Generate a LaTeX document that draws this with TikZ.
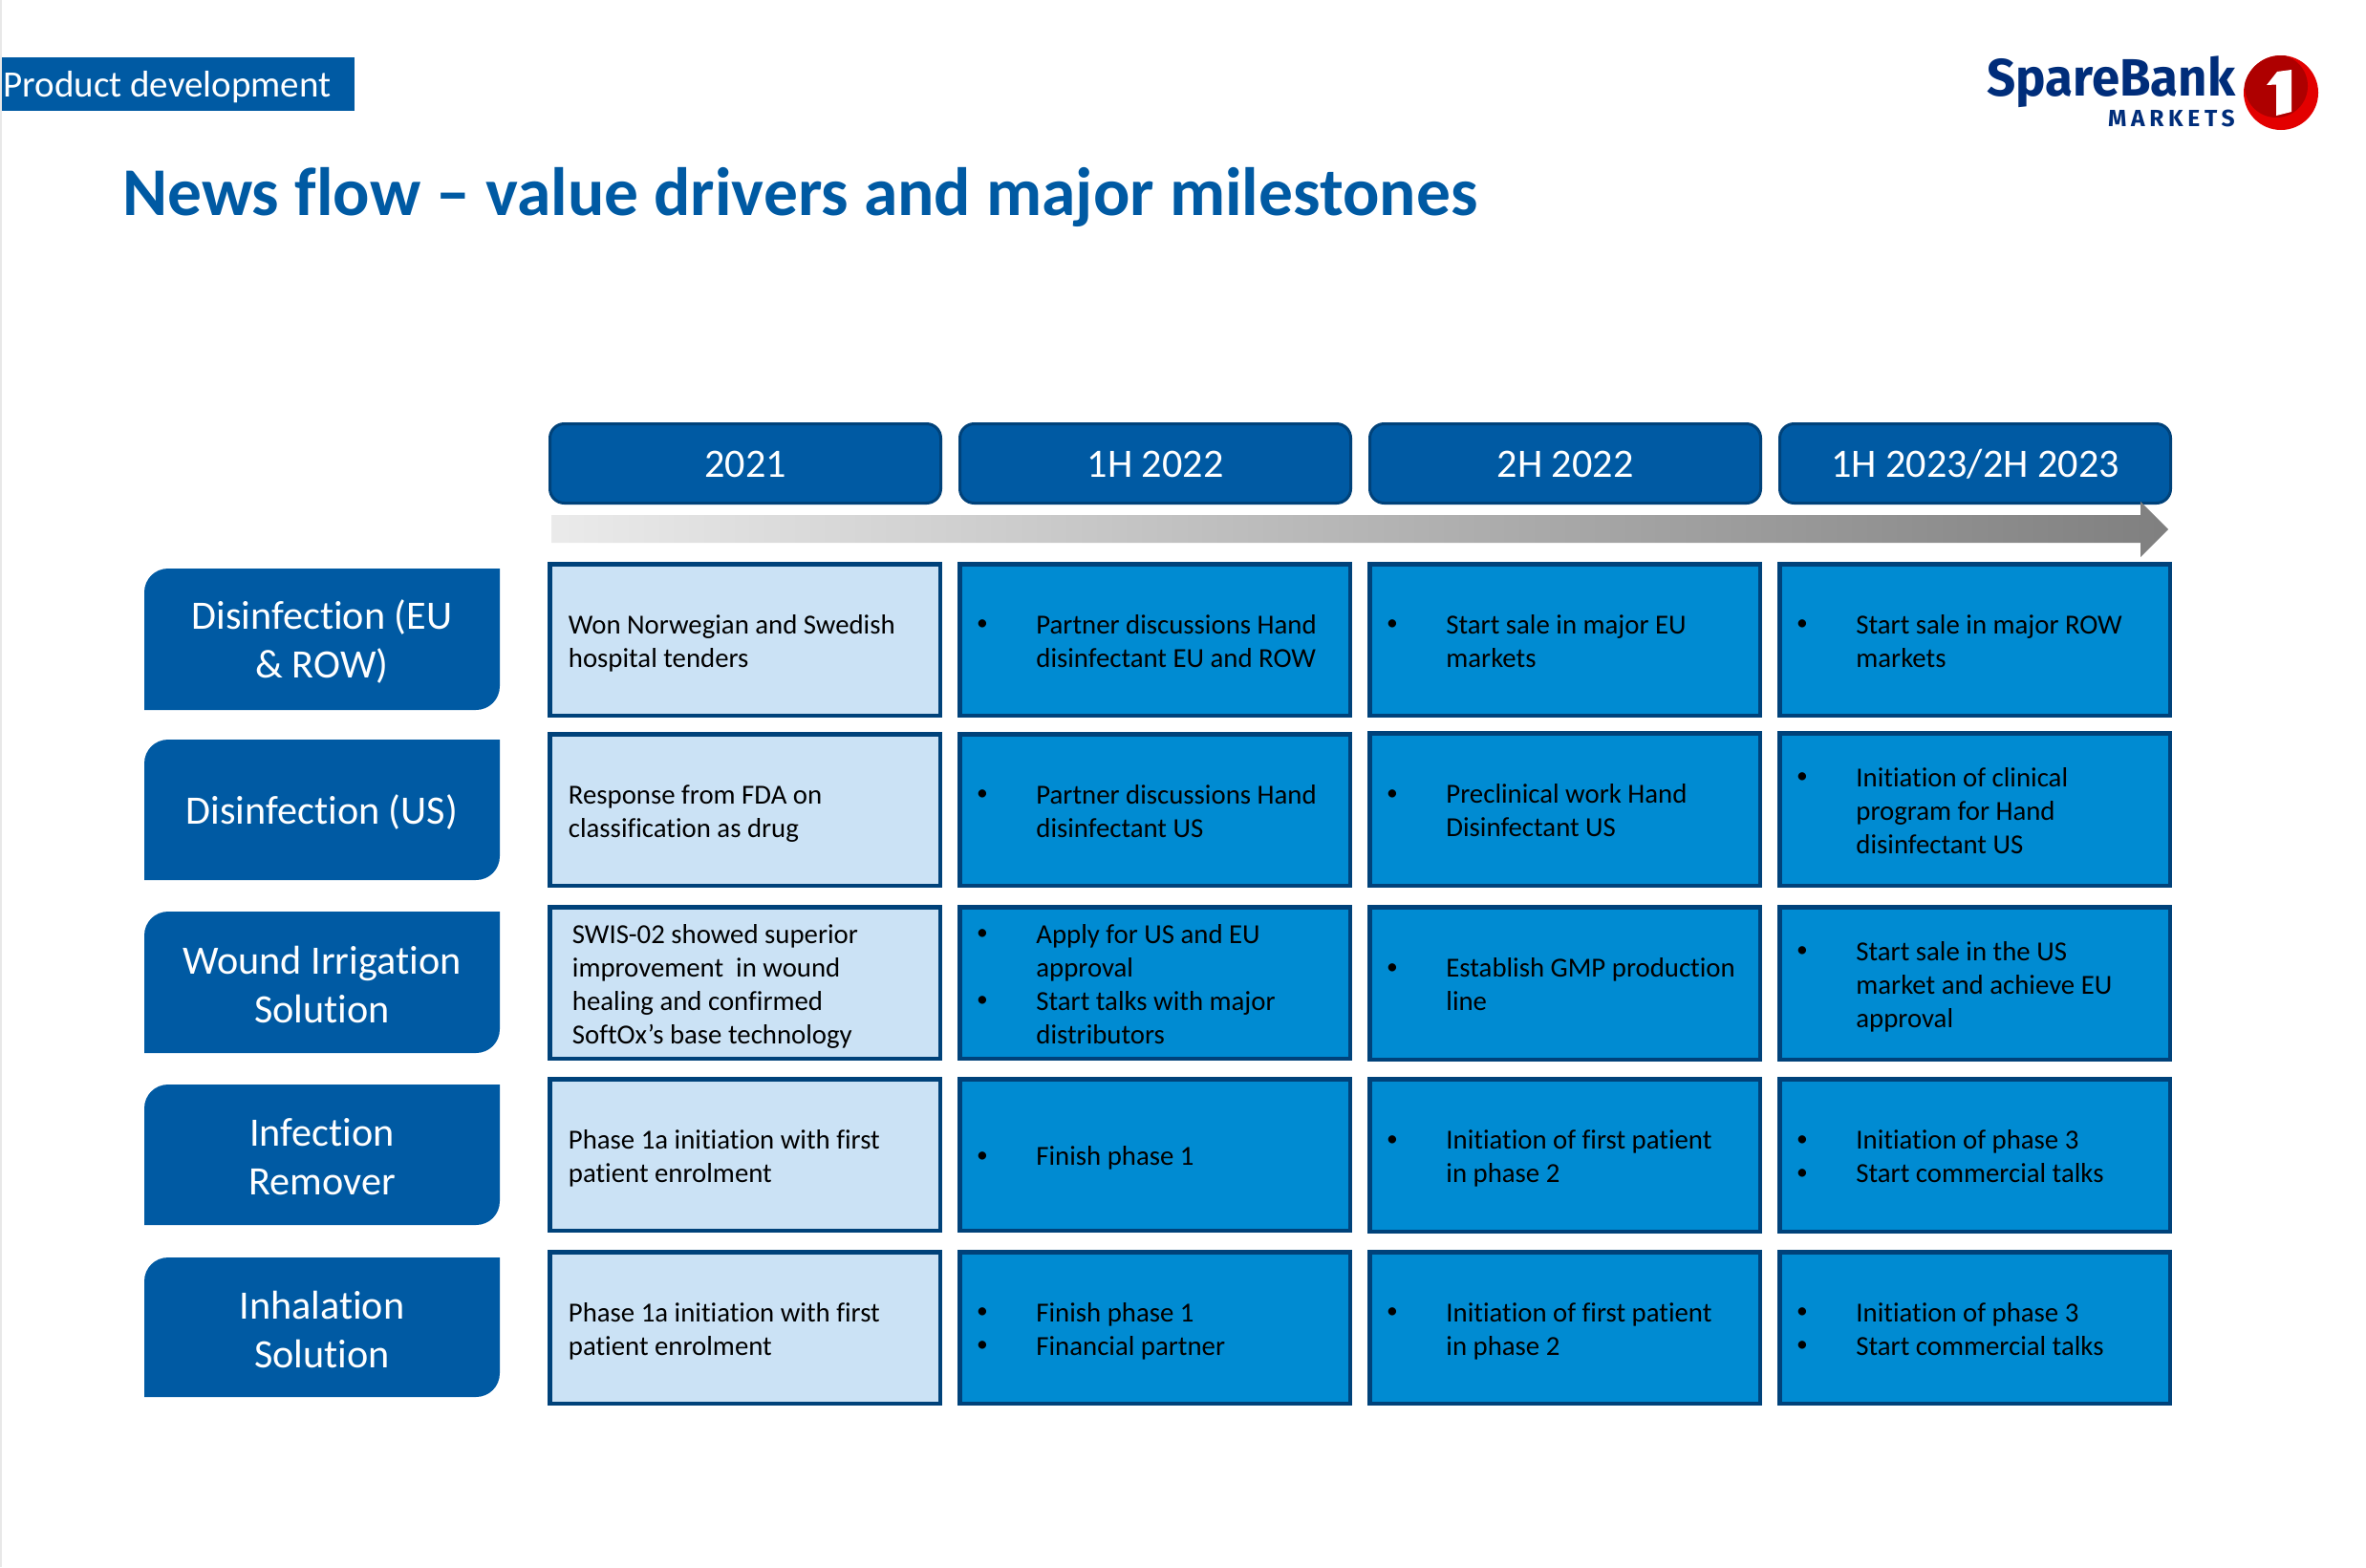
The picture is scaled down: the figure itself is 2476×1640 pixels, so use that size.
\documentclass[tikz,border=0pt]{standalone}
\usepackage{fontspec}
\setmainfont{Carlito}[Ligatures=NoCommon]
\newfontfamily\logofont{Fira Sans}
\newfontfamily\logomk[LetterSpace=19]{Fira Sans}
\usetikzlibrary{calc}
\definecolor{brand}{HTML}{005AA3}
\definecolor{edge}{HTML}{00427A}
\definecolor{midblue}{HTML}{008BD2}
\definecolor{pale}{HTML}{CBE2F5}
\definecolor{navy}{HTML}{002D7A}
\definecolor{redA}{HTML}{E30000}
\definecolor{redB}{HTML}{AE0000}
\tikzset{
  cellbox/.style={rectangle,draw=edge,line width=2.25pt,inner sep=0pt},
  early/.style={fill=pale},
  later/.style={fill=midblue},
  celltext/.style={anchor=west,align=left,inner sep=0pt,text=black,font=\fontsize{14.4}{17.5}\selectfont},
  headbox/.style={rectangle,rounded corners=7.5pt,fill=brand,draw=edge,line width=1.5pt,inner sep=0pt,
    minimum width=204.5pt,minimum height=41.5pt,text height=18pt,text depth=4pt,text=white,font=\fontsize{21.1}{25}\selectfont},
  labeltext/.style={align=center,inner sep=0pt,text=white,font=\fontsize{21.1}{25.5}\selectfont},
}
\newcommand\bl[1]{\makebox[29.5pt][l]{\hspace{-1.6pt}\raisebox{1.6pt}{\scalebox{.82}{\textbullet}}}#1\strut}
\newcommand\ct[1]{\hspace*{29.5pt}#1\strut}
\newcommand\pl[1]{#1\strut}
% name, col left, top, bottom, style, text
\newcommand\cellnode[6]{
  \node[cellbox,#5,minimum width=204.25pt,minimum height={(#4-#3-4.5)*0.5pt}] (#1) at ({#2+206.5},{(#3+#4)/2}) {};
  \node[celltext] (#1t) at ({#2+23},{(#3+#4)/2+4}) {#6};
}
\newcommand\plaincell[6]{
  \node[cellbox,#5,minimum width=204.25pt,minimum height={(#4-#3-4.5)*0.5pt}] (#1) at ({#2+206.5},{(#3+#4)/2}) {};
  \node[celltext] (#1t) at ({#2+21.5},{(#3+#4)/2+4}) {#6};
}
\newcommand\pcell[6]{
  \node[cellbox,#5,minimum width=204.25pt,minimum height={(#4-#3-4.5)*0.5pt}] (#1) at ({#2+206.5},{(#3+#4)/2}) {};
  \node[celltext] (#1t) at ({#2+25.5},{(#3+#4)/2+4}) {#6};
}
% name, top, bottom, text
\newcommand\labelbox[4]{
  \fill[brand] (151,#3) -- (151,{#2+25}) .. controls (151,{#2+11}) and (162,#2) .. (176,#2)
    -- (523,#2) -- (523,{#3-25}) .. controls (523,{#3-11}) and (512,#3) .. (498,#3) -- cycle;
  \node[labeltext] (#1) at (337,{(#2+#3)/2+2.5}) {#4};
}
\begin{document}
\begin{tikzpicture}[x=0.5pt,y=-0.5pt]
\useasboundingbox (0,0) rectangle (2476,1640);
\fill[white] (0,0) rectangle (2476,1640);
\fill[black!9] (0,0) rectangle (2,1640);
% tag and title
\fill[brand] (2,60) rectangle (371,116);
\node[anchor=base west,inner sep=0pt,text=white,font=\fontsize{19.5}{24}\selectfont] (tag) at (3,101) {Product development};
\node[anchor=base west,inner sep=0pt,text=brand,font=\bfseries\fontsize{35.75}{44}\selectfont] (title) at (128,225) {News flow – value drivers and major milestones};
% logo
\node[anchor=base west,inner sep=0pt,xscale=.96,text=navy,font=\logofont\bfseries\fontsize{27.5}{33}\selectfont] (spare) at (2079,100) {SpareBank};
\node[anchor=base east,inner sep=0pt,text=navy,font=\logomk\bfseries\fontsize{12.3}{15}\selectfont] (markets) at (2339,132) {MARKETS};
\fill[redA] (2387,97) circle[radius=19.5pt];
\begin{scope}
  \clip (2387,97) circle[radius=19.5pt];
  \fill[redB] (2382,90) circle[radius=16.5pt];
\end{scope}
\fill[white] (2398,73) -- (2383,75) -- (2372,89) -- (2382,88.5) -- (2382,121) -- (2398,117) -- cycle;
% headers
\node[headbox] (h1) at (780,485) {2021};
\node[headbox] (h2) at (1209,485) {1H 2022};
\node[headbox] (h3) at (1638,485) {2H 2022};
\node[headbox] (h4) at (2067,485) {1H 2023/2H 2023};
% time arrow
\shade[left color=black!8,right color=black!50]
  (577,539) -- (2240,539) -- (2240,525) -- (2269,554) -- (2240,583) -- (2240,568) -- (577,568) -- cycle;
% row labels
\labelbox{l1}{595}{743}{Disinfection (EU\\ \& ROW)}
\labelbox{l2}{774}{921}{Disinfection (US)}
\labelbox{l3}{954}{1102}{Wound Irrigation\\Solution}
\labelbox{l4}{1135}{1282}{Infection\\Remover}
\labelbox{l5}{1316}{1462}{Inhalation\\Solution}
% row 1
\plaincell{a1}{573}{588}{751}{early}{\pl{Won Norwegian and Swedish}\\\pl{hospital tenders}}
\cellnode{b1}{1002}{588}{751}{later}{\bl{Partner discussions Hand}\\\ct{disinfectant EU and ROW}}
\cellnode{c1}{1431}{588}{751}{later}{\bl{Start sale in major EU}\\\ct{markets}}
\cellnode{d1}{1860}{588}{751}{later}{\bl{Start sale in major ROW}\\\ct{markets}}
% row 2
\plaincell{a2}{573}{766}{929}{early}{\pl{Response from FDA on}\\\pl{classification as drug}}
\cellnode{b2}{1002}{766}{929}{later}{\bl{Partner discussions Hand}\\\ct{disinfectant US}}
\cellnode{c2}{1431}{765}{929}{later}{\bl{Preclinical work Hand}\\\ct{Disinfectant US}}
\cellnode{d2}{1860}{765}{929}{later}{\bl{Initiation of clinical}\\\ct{program for Hand}\\\ct{disinfectant US}}
% row 3
\pcell{a3}{573}{947}{1110}{early}{\pl{SWIS-02 showed superior}\\\pl{improvement\ \ in wound}\\\pl{healing and confirmed}\\\pl{SoftOx’s base technology}}
\cellnode{b3}{1002}{947}{1110}{later}{\bl{Apply for US and EU}\\\ct{approval}\\\bl{Start talks with major}\\\ct{distributors}}
\cellnode{c3}{1431}{947}{1111}{later}{\bl{Establish GMP production}\\\ct{line}}
\cellnode{d3}{1860}{947}{1111}{later}{\bl{Start sale in the US}\\\ct{market and achieve EU}\\\ct{approval}}
% row 4
\plaincell{a4}{573}{1127}{1290}{early}{\pl{Phase 1a initiation with first}\\\pl{patient enrolment}}
\cellnode{b4}{1002}{1127}{1290}{later}{\bl{Finish phase 1}}
\cellnode{c4}{1431}{1127}{1291}{later}{\bl{Initiation of first patient}\\\ct{in phase 2}}
\cellnode{d4}{1860}{1127}{1291}{later}{\bl{Initiation of phase 3}\\\bl{Start commercial talks}}
% row 5
\plaincell{a5}{573}{1308}{1471}{early}{\pl{Phase 1a initiation with first}\\\pl{patient enrolment}}
\cellnode{b5}{1002}{1308}{1471}{later}{\bl{Finish phase 1}\\\bl{Financial partner}}
\cellnode{c5}{1431}{1308}{1471}{later}{\bl{Initiation of first patient}\\\ct{in phase 2}}
\cellnode{d5}{1860}{1308}{1471}{later}{\bl{Initiation of phase 3}\\\bl{Start commercial talks}}
\end{tikzpicture}
\end{document}
